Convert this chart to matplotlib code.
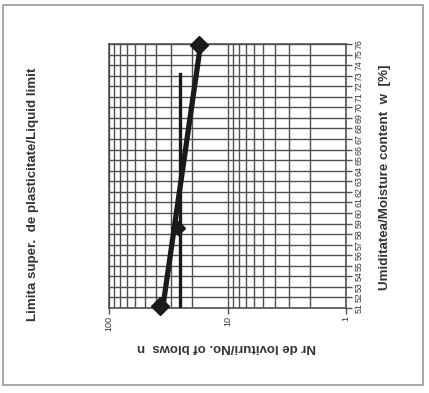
import matplotlib.pyplot as plt
import numpy as np

# blows vs moisture content (liquid limit test)
blows = [37, 26, 17.3]
moisture = [51.2, 58.6, 75.9]
n_ref = 25
n_ref_top = 73.2
w_ticks = list(range(51, 77))
n_ticks = [100, 10, 1]

plt.rcParams['font.family'] = ['Liberation Sans', 'DejaVu Sans']
txt = '#333333'
gridc = '#505050'

fig = plt.figure(figsize=(4.29, 3.93), dpi=100)
ax = fig.add_axes([109/429, 1-308/393, 237/429, 264/393])

ax.set_xscale('log')
ax.set_xlim(100, 1)
ax.set_ylim(min(w_ticks), max(w_ticks))

# gridlines
ax.set_yticks(w_ticks)
ax.set_yticklabels([str(w) for w in w_ticks], rotation=90, va='center', fontsize=6.3, color=txt)
ax.yaxis.tick_right()
ax.set_xticks(n_ticks)
ax.set_xticklabels([str(n) for n in n_ticks], rotation=90, fontsize=6.5, color=txt)
ax.grid(True, which='major', color=gridc, linewidth=1.0)
ax.grid(True, which='minor', axis='x', color=gridc, linewidth=1.0)
ax.tick_params(axis='both', which='both', length=4, width=1, color=gridc, pad=2)
ax.tick_params(axis='x', which='minor', length=0)
for s in ax.spines.values():
    s.set_color(gridc)
    s.set_linewidth(1.2)

# trend line (log n linear in w) and measured points
lw = np.log10(blows)
coef = np.polyfit(moisture, lw, 1)
wfit = np.array([min(moisture), max(moisture)])
ax.plot(10**np.polyval(coef, wfit), wfit, color='#1a1a1a', linewidth=3.8, solid_capstyle='butt', zorder=4)
ax.plot(blows[::2], moisture[::2], linestyle='none', marker='D', markersize=9, color='#1a1a1a', zorder=5, clip_on=False)
ax.plot(blows[1], moisture[1], linestyle='none', marker='D', markersize=7, color='#1a1a1a', zorder=5)

# reference line at 25 blows
ax.plot([n_ref, n_ref], [min(w_ticks), n_ref_top], color='#1a1a1a', linewidth=2.4, zorder=3)

fig.text(33/429, 1-194/393, 'Limita super.  de plasticitate/Liquid limit', rotation=90,
         ha='center', va='center', fontsize=9.6, fontweight='bold', color=txt)
fig.text(385/429, 1-177/393, 'Umiditatea/Moisture content  w  [%]', rotation=90,
         ha='center', va='center', fontsize=9.6, fontweight='bold', color=txt)
fig.text(227/429, 1-347/393, 'Nr de lovituri/No. of blows  n', rotation=180,
         ha='center', va='center', fontsize=9.5, fontweight='bold', color=txt)

# outer frame
fig.patches.append(plt.Rectangle((3/429, 1-385/393), 420/429, 380/393, transform=fig.transFigure,
                                 fill=False, edgecolor='#9a9a9a', linewidth=1.2))

fig.savefig('out.png', dpi=100)
